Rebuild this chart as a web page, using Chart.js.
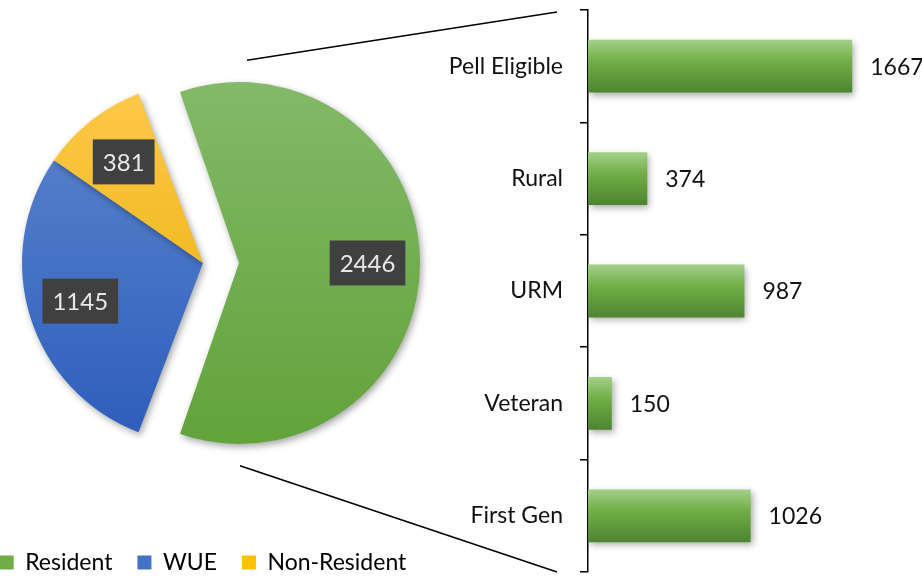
<!DOCTYPE html>
<html>
<head>
<meta charset="utf-8">
<script src="https://cdn.jsdelivr.net/npm/chart.js@4.4.1/dist/chart.umd.min.js"></script>
<style>
html,body{margin:0;padding:0;background:#fff;overflow:hidden;}
#wrap{position:relative;width:922px;height:578px;overflow:hidden;}
#barChart{position:absolute;left:0;top:0;}
#pieChart{position:absolute;left:-47px;top:0;}
</style>
</head>
<body>
<div id="wrap">
<canvas id="barChart" width="922" height="578"></canvas>
<canvas id="pieChart" width="500" height="584"></canvas>
</div>
<script>
// data
const pieLabels=["Resident","WUE","Non-Resident"];
const pieValues=[2446,1145,381];
const barLabels=["Pell Eligible","Rural","URM","Veteran","First Gen"];
const barValues=[1667,374,987,150,1026];
const barAxisMax=2000;

Chart.defaults.font.family="Lato, 'Open Sans', sans-serif";
Chart.defaults.font.size=23;
Chart.defaults.color="#111";

const pieSolid=["#70ad47","#4472c4","#ffc000"];
const pieGrad=[["#83b968","#62a33a"],["#5f87cf","#2d5dbb"],["#ffc84a","#e2ae00"]];
const pieRadius=181;
const pieTotal=pieValues.reduce((a,b)=>a+b,0);

function pieFill(c){
  const i=c.dataIndex==null?0:c.dataIndex;
  const a=c.chart.chartArea;
  if(!a) return pieSolid[i];
  const cy=(a.top+a.bottom)/2;
  const g=c.chart.ctx.createLinearGradient(0,cy-pieRadius,0,cy+pieRadius);
  g.addColorStop(0,pieGrad[i][0]);
  g.addColorStop(1,pieGrad[i][1]);
  return g;
}

function barFill(c){
  const ch=c.chart, ys=ch.scales&&ch.scales.y;
  if(!ch.chartArea||!ys||c.dataIndex==null) return "#70ad47";
  const cy=ys.getPixelForValue(c.dataIndex);
  const h=ys.height/barLabels.length*0.47/2;
  const g=ch.ctx.createLinearGradient(0,cy-h,0,cy+h);
  g.addColorStop(0,"#a4d08a");
  g.addColorStop(0.4,"#72af46");
  g.addColorStop(1,"#4d8431");
  return g;
}

// chart.js moves an exploded arc by offset/4 (and grows it, undone below)
function arcShift(arc){
  return (arc.options.offset||0)/4;
}

const explodeFix={
  id:"explodeFix",
  afterDatasetUpdate(chart,args){
    args.meta.data.forEach(arc=>{
      const circ=arc.endAngle-arc.startAngle;
      const fix=1-Math.sin(Math.min(Math.PI,circ));
      arc.outerRadius-=arcShift(arc)*fix;
    });
  }
};

// soft drop shadow like the office chart
const shadow={
  id:"shadow",
  beforeDatasetDraw(chart){
    const x=chart.ctx;
    x.save();
    x.shadowColor="rgba(0,0,0,0.35)";
    x.shadowBlur=7;
    x.shadowOffsetX=2;
    x.shadowOffsetY=3;
  },
  afterDatasetDraw(chart){chart.ctx.restore();}
};

const pieTags={
  id:"pieTags",
  afterDatasetsDraw(chart){
    const ctx=chart.ctx;
    ctx.save();
    ctx.font="24px Lato";
    ctx.textAlign="center";
    ctx.textBaseline="middle";
    chart.getDatasetMeta(0).data.forEach((arc,i)=>{
      const mid=(arc.startAngle+arc.endAngle)/2;
      const d=arcShift(arc)+pieRadius*0.71;
      const px=arc.x+Math.cos(mid)*d, py=arc.y+Math.sin(mid)*d;
      const t=String(pieValues[i]);
      const w=ctx.measureText(t).width+20, h=45;
      ctx.fillStyle="#404040";
      ctx.fillRect(px-w/2,py-h/2,w,h);
      ctx.fillStyle="#e8e8e8";
      ctx.fillText(t,px,py+1);
    });
    ctx.restore();
  }
};

const pieCanvas=document.getElementById("pieChart");
const pieChart=new Chart(pieCanvas,{
  type:"pie",
  data:{
    labels:pieLabels,
    datasets:[{data:pieValues,backgroundColor:pieFill,borderWidth:0,offset:[144,0,0],hoverOffset:0}]
  },
  options:{
    responsive:false,
    animation:false,
    events:[],
    radius:pieRadius,
    rotation:90-(pieValues[0]/pieTotal*360)/2,
    layout:{padding:{top:-6,left:0,right:0,bottom:0}},
    plugins:{
      tooltip:{enabled:false},
      legend:{
        position:"bottom",
        labels:{
          boxWidth:14,boxHeight:14,padding:25,color:"#111",
          generateLabels:()=>pieLabels.map((l,i)=>({text:l,fillStyle:pieSolid[i],strokeStyle:pieSolid[i],lineWidth:0,hidden:false,index:i}))
        }
      }
    }
  },
  plugins:[explodeFix,shadow,pieTags]
});

const barTags={
  id:"barTags",
  afterDatasetsDraw(chart){
    const ctx=chart.ctx;
    ctx.save();
    ctx.font="23px Lato";
    ctx.fillStyle="#111";
    ctx.textAlign="left";
    ctx.textBaseline="middle";
    chart.getDatasetMeta(0).data.forEach((b,i)=>ctx.fillText(String(barValues[i]),b.x+18,b.y+1));
    ctx.restore();
  }
};

// series lines from the pie to the bar axis
const connectors={
  id:"connectors",
  beforeDatasetsDraw(chart){
    const arc=pieChart.getDatasetMeta(0).data[0];
    if(!arc) return;
    const ys=chart.scales.y;
    const ax=arc.x+pieCanvas.offsetLeft+arcShift(arc);
    const r=pieRadius*1.12;
    const ctx=chart.ctx;
    ctx.save();
    ctx.strokeStyle="#000";
    ctx.lineWidth=1.5;
    ctx.beginPath();
    ctx.moveTo(ax+8,arc.y-r);
    ctx.lineTo(ys.right-31,ys.top+2);
    ctx.moveTo(ax+1,arc.y+r);
    ctx.lineTo(ys.right-31,ys.bottom);
    ctx.stroke();
    ctx.restore();
  }
};

const barChart=new Chart(document.getElementById("barChart"),{
  type:"bar",
  data:{
    labels:barLabels,
    datasets:[{data:barValues,backgroundColor:barFill,borderWidth:0,barPercentage:0.47,categoryPercentage:1}]
  },
  options:{
    indexAxis:"y",
    responsive:false,
    animation:false,
    events:[],
    layout:{padding:{left:0,top:10,right:17,bottom:6}},
    scales:{
      x:{display:false,min:0,max:barAxisMax},
      y:{
        afterFit(s){s.width=588;s.paddingTop=0;s.paddingBottom=0;},
        grid:{drawOnChartArea:false,drawTicks:true,tickLength:8,color:"#000",lineWidth:1.5,offset:true},
        border:{display:true,color:"#000",width:1.5},
        ticks:{padding:17,color:"#111",font:{size:23}}
      }
    },
    plugins:{legend:{display:false},tooltip:{enabled:false}}
  },
  plugins:[shadow,barTags,connectors]
});
</script>
</body>
</html>
